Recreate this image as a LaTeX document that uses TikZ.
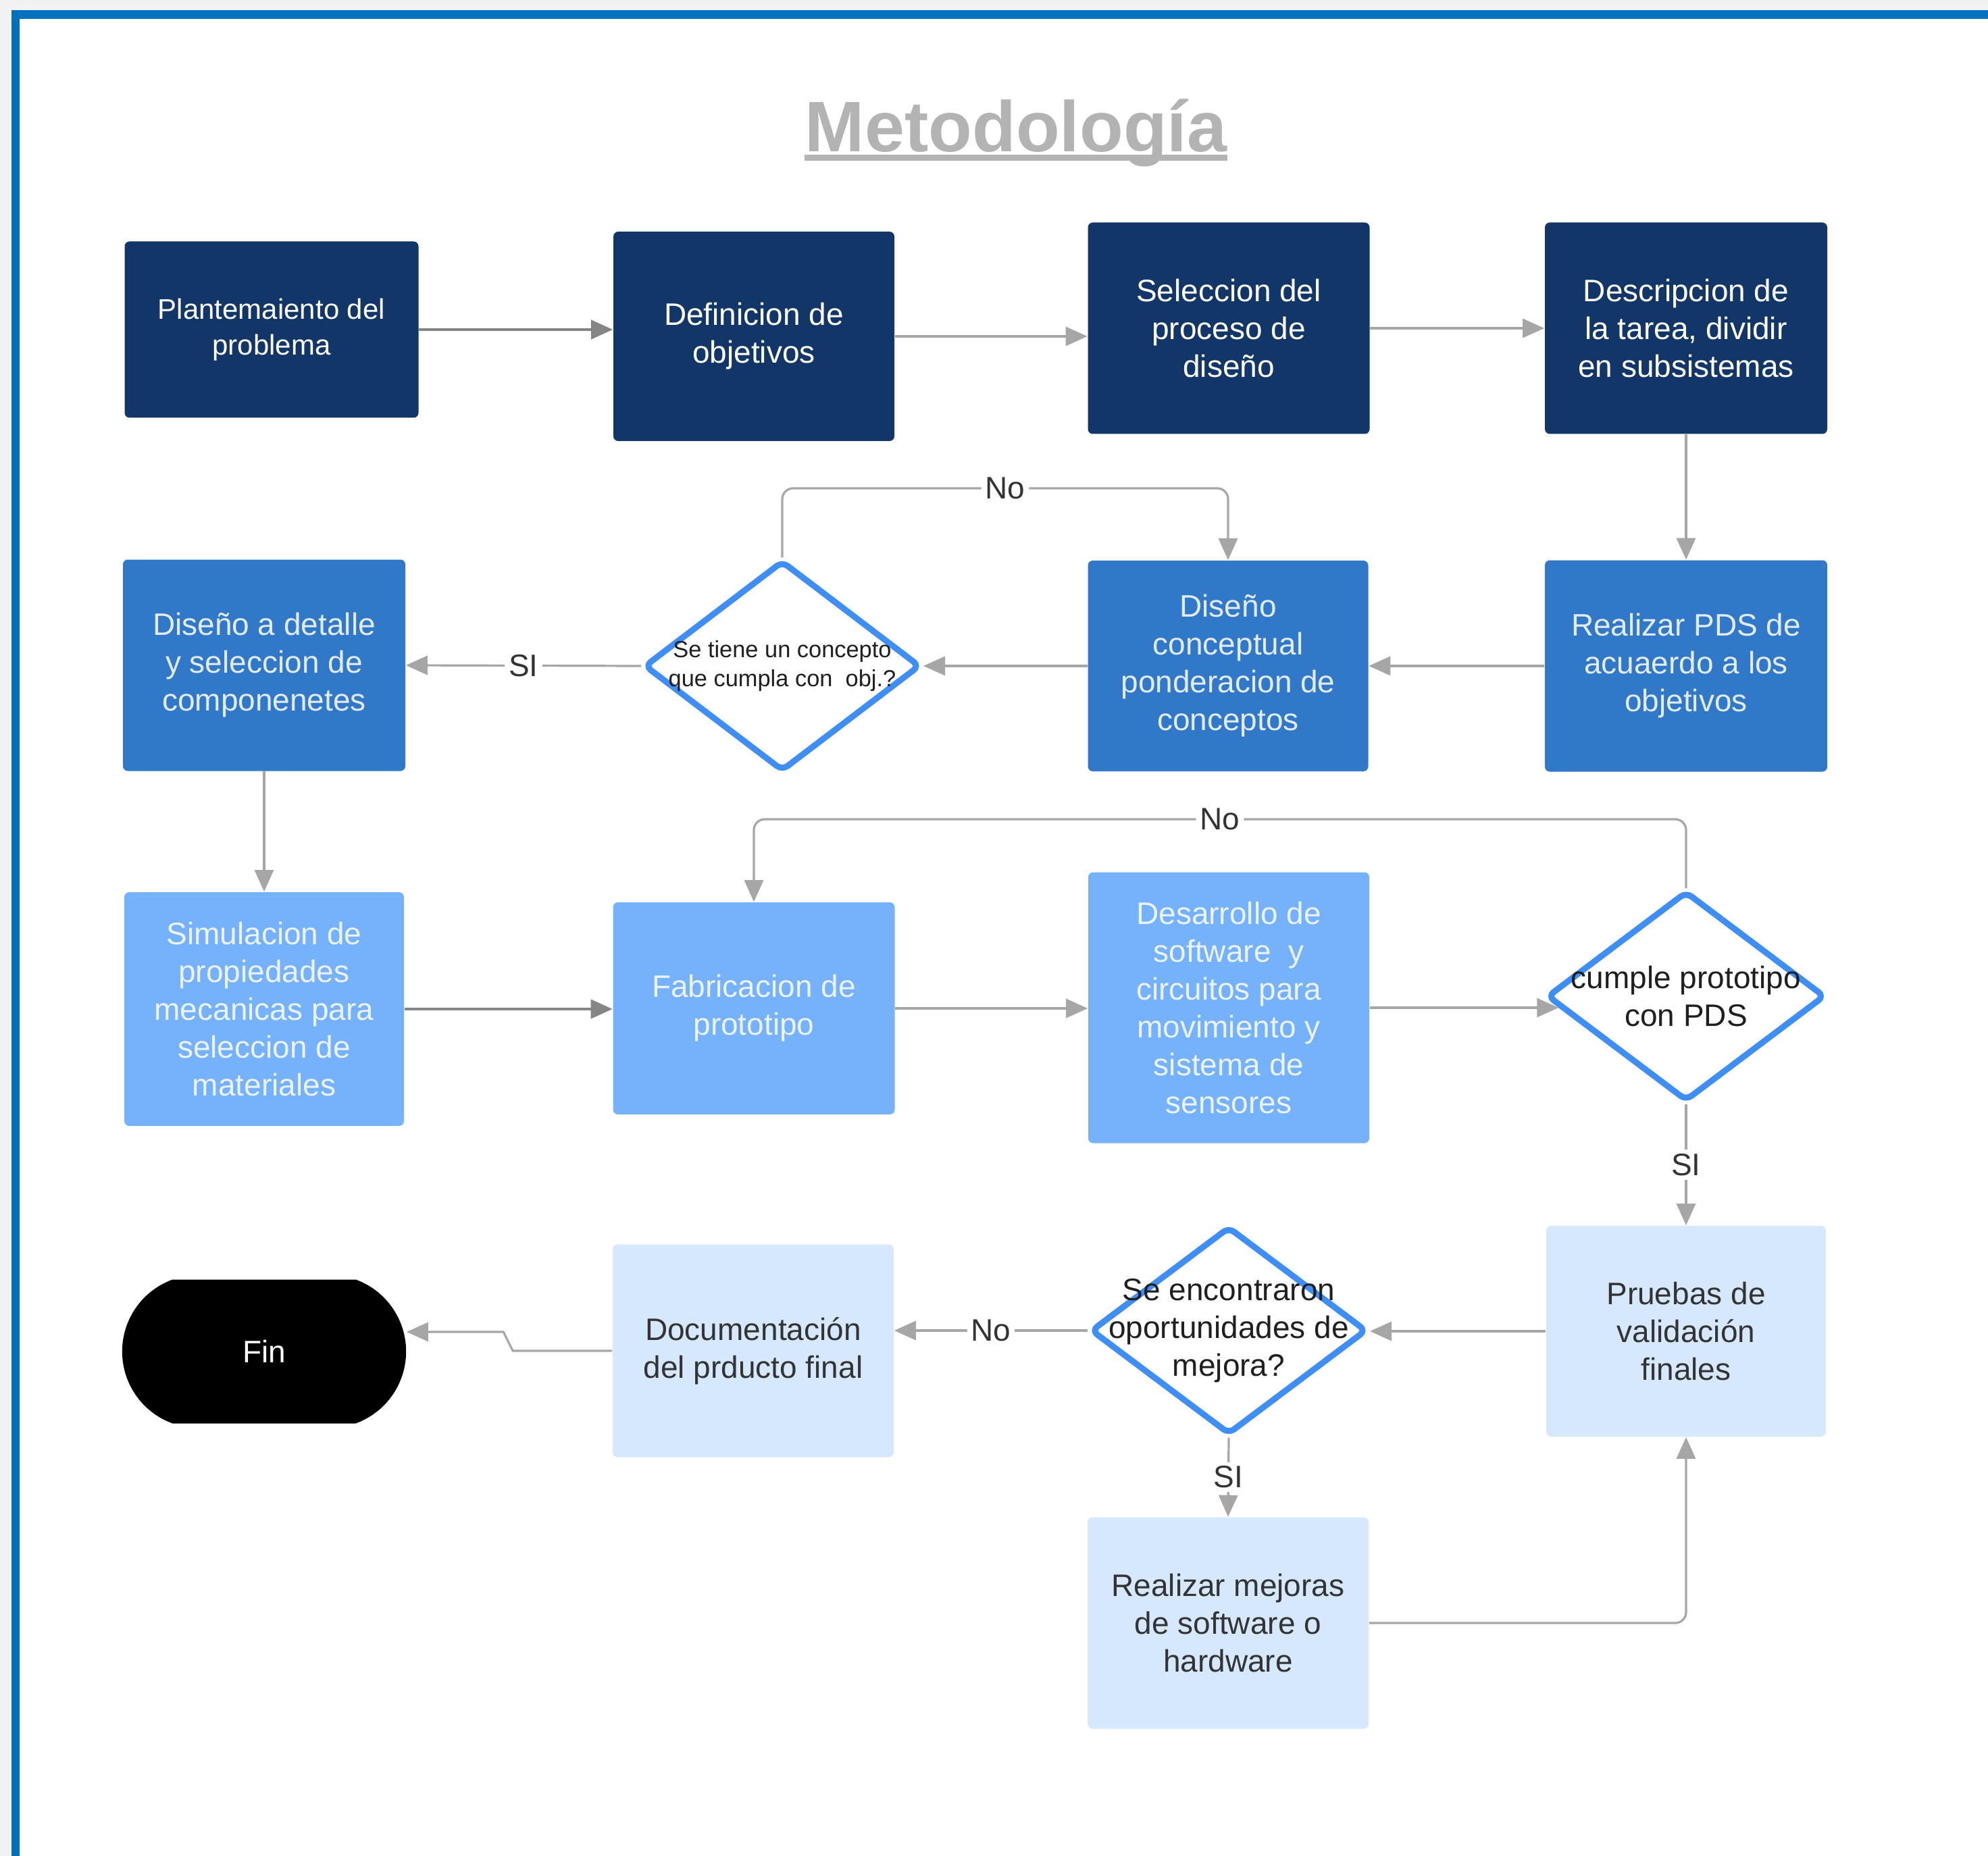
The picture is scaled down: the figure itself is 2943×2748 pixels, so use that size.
\documentclass[tikz,border=0pt]{standalone}
\usepackage{fontspec}
\setmainfont{Liberation Sans}
\usetikzlibrary{arrows.meta,shapes.geometric,shapes.misc,calc}
\definecolor{cnavy}{HTML}{133668}
\definecolor{cmid}{HTML}{3178C8}
\definecolor{clite}{HTML}{76B1FB}
\definecolor{cpale}{HTML}{D6E8FD}
\definecolor{tmid}{HTML}{E2ECF9}
\definecolor{tlite}{HTML}{EAF3FF}
\definecolor{tpale}{HTML}{333333}
\definecolor{cdia}{HTML}{3F8EF6}
\definecolor{cline}{HTML}{A6A6A6}
\definecolor{cdark}{HTML}{858585}
\definecolor{tlbl}{HTML}{333333}
\definecolor{ctitle}{HTML}{B3B3B3}
\definecolor{cframe}{HTML}{0070C0}
\definecolor{cbg}{HTML}{F2F2F2}
\tikzset{
  base/.style={rectangle, rounded corners=1.8pt, inner sep=2pt, align=center,
    font=\fontsize{11.5}{14}\selectfont},
  navy/.style={base, fill=cnavy, text=white},
  midbox/.style={base, fill=cmid, text=tmid},
  litebox/.style={base, fill=clite, text=tlite},
  palebox/.style={base, fill=cpale, text=tpale},
  sz/.style 2 args={minimum width=#1*0.25pt, minimum height=#2*0.25pt},
  diam/.style={diamond, draw=cdia, fill=white, line width=2.25pt, rounded corners=2.5pt, inner sep=0pt},
  dtext/.style={font=\fontsize{11.5}{14}\selectfont, align=center, text=black!88},
  conn/.style={draw=cline, line width=0.8pt, -{Triangle[length=8pt,width=7pt]}},
  conndark/.style={draw=cdark, line width=0.95pt, -{Triangle[length=8pt,width=7pt]}},
  lbl/.style={fill=white, inner sep=1.5pt, text=tlbl, font=\fontsize{11.5}{14}\selectfont},
}
\begin{document}
\begin{tikzpicture}[x=0.25pt, y=-0.25pt]
\useasboundingbox (0,0) rectangle (2943,2748);
% frame
\fill[cbg] (0,0) rectangle (2943,2748);
\fill[cframe] (17,15) rectangle (2943,2748);
\fill[white] (29,28) rectangle (2943,2748);
% title
\node[font=\bfseries\fontsize{26.5}{30}\selectfont, text=ctitle, inner sep=0pt, anchor=base] (title) at (1504,225) {Metodología};
\fill[ctitle] ($(title.base west)+(0,4)$) rectangle ($(title.base east)+(0,13)$);
% row 1
\node[navy, sz={435}{261}, font=\fontsize{10.5}{13.1}\selectfont] (n1) at (402,488) {Plantemaiento del\\problema};
\node[navy, sz={416}{310}] (n2) at (1116,498) {Definicion de\\objetivos};
\node[navy, sz={417}{313}] (n3) at (1819,486) {Seleccion del\\proceso de\\diseño};
\node[navy, sz={418}{313}] (n4) at (2496,486) {Descripcion de\\la tarea, dividir\\en subsistemas};
% row 2
\node[midbox, sz={418}{313}] (n5) at (391,985) {Diseño a detalle\\y seleccion de\\componenetes};
\node[diam, sz={409}{312}, label={[dtext, font=\fontsize{8.6}{10.8}\selectfont]center:{Se tiene un concepto\\que cumpla con~ obj.?}}] (d1) at (1158,986) {};
\node[midbox, sz={415}{312}] (n7) at (1818,986) {Diseño\\conceptual\\ponderacion de\\conceptos};
\node[midbox, sz={418}{313}] (n6) at (2496,986) {Realizar PDS de\\acuaerdo a los\\objetivos};
% row 3
\node[litebox, sz={414}{346}] (n8) at (391,1494) {Simulacion de\\propiedades\\mecanicas para\\seleccion de\\materiales};
\node[litebox, sz={417}{314}] (n9) at (1116,1493) {Fabricacion de\\prototipo};
\node[litebox, sz={416}{401}] (n10) at (1819,1492) {Desarrollo de\\software~ y\\circuitos para\\movimiento y\\sistema de\\sensores};
\node[diam, sz={412}{311}, label={[dtext]center:{cumple prototipo\\con PDS}}] (d2) at (2496,1475) {};
% row 4
\node[rounded rectangle, rounded rectangle arc length=140, fill=black, text=white, sz={447}{213}, font=\fontsize{11.5}{14}\selectfont] (fin) at (391,2001) {Fin};
\node[palebox, sz={416}{315}] (n13) at (1115,2000) {Documentación\\del prducto final};
\node[diam, sz={409}{308}, label={[dtext]center:{Se encontraron\\oportunidades de\\mejora?}}] (d3) at (1819,1970) {};
\node[palebox, sz={414}{312}] (n12) at (2496,1971) {Pruebas de\\validación\\finales};
\node[palebox, sz={416}{313}] (n14) at (1818,2403) {Realizar mejoras\\de software o\\hardware};
% helper coordinates
\coordinate (l1) at (0,723);
\coordinate (l2) at (0,1213);
% connectors
\draw[conndark] (n1.east) -- (n1.east -| n2.west);
\draw[conn] (n2.east) -- (n2.east -| n3.west);
\draw[conn] (n3.east) -- (n3.east -| n4.west);
\draw[conn] (n4.south) -- (n6.north);
\draw[conn] (n6.west) -- (n7.east);
\draw[conn] (n7.west) -- (d1.east);
\draw[conn] (d1.west) -- node[lbl]{SI} (n5.east);
\draw[conn, rounded corners=4pt] (d1.north) -- (d1.north |- l1) -- node[lbl]{No} (n7.north |- l1) -- (n7.north);
\draw[conn] (n5.south) -- (n8.north);
\draw[conndark] (n8.east) -- (n8.east -| n9.west);
\draw[conn] (n9.east) -- (n9.east -| n10.west);
\draw[conn] (n10.east) -- (n10.east -| d2.185);
\draw[conn, rounded corners=4pt] (d2.north) -- (d2.north |- l2) -- node[lbl]{No} (n9.north |- l2) -- (n9.north);
\draw[conn] (d2.south) -- node[lbl]{SI} (n12.north);
\draw[conn] (n12.west) -- (n12.west -| d3.east);
\draw[conn] (d3.west) -- node[lbl]{No} (d3.west -| n13.east);
\draw[conn] (d3.south) -- node[lbl]{SI} (n14.north);
\draw[conn, rounded corners=4pt] (n14.east) -| (n12.south);
\draw[conn] (n13.west) -- ++(-147,0) -- ++(-14,-28) -- ($(fin.east)+(0,-29)$);
\end{tikzpicture}
\end{document}
